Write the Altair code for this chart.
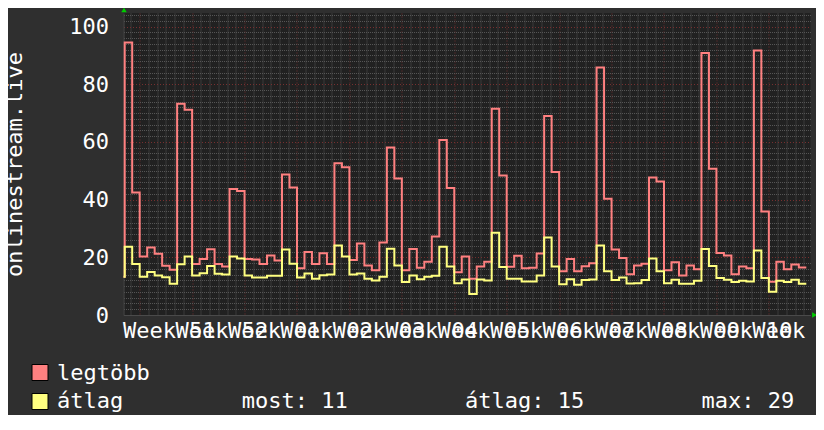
import json
import altair as alt
import pandas as pd

# ---------------- data ----------------
week_labels = ["Week 51", "Week 52", "Week 01", "Week 02", "Week 03", "Week 04",
               "Week 05", "Week 06", "Week 07", "Week 08", "Week 09", "Week 10", "Week 11"]
series_names = ["legtöbb", "átlag"]
series_colors = ["#ff8080", "#ffff80"]

# value of the small partial step at the very left edge (both series)
start_values = [13.3, 13.3]

# daily values, day 0 .. day 90
legtobb = [94.5, 42.5, 20.3, 23.4, 21.2, 17.1, 15.7, 73.2, 71.2, 17.7,
           19.4, 22.8, 17.7, 16.8, 43.7, 43.0, 19.4, 19.2, 17.7, 20.6,
           18.9, 48.7, 44.2, 16.2, 21.8, 17.7, 21.4, 17.7, 52.6, 51.2,
           19.1, 24.8, 17.2, 15.5, 25.1, 58.1, 47.3, 15.5, 22.9, 16.4,
           18.5, 27.2, 60.7, 44.0, 14.8, 20.3, 12.6, 16.8, 18.5, 71.5,
           48.4, 16.7, 20.5, 16.2, 16.4, 21.3, 69.0, 49.6, 15.2, 19.4,
           15.2, 16.9, 17.9, 85.8, 40.3, 22.7, 19.8, 14.1, 17.2, 17.8,
           47.7, 46.3, 15.5, 18.3, 13.7, 17.2, 15.9, 90.8, 50.7, 21.5,
           20.6, 14.1, 16.8, 16.2, 91.7, 35.9, 11.5, 18.5, 15.9, 17.5,
           16.5]
atlag = [23.7, 17.7, 13.3, 14.9, 13.7, 13.1, 10.8, 17.6, 20.3, 13.7,
         14.5, 17.0, 14.3, 14.0, 20.3, 19.6, 13.7, 13.0, 13.0, 13.6,
         13.6, 22.7, 17.8, 13.0, 14.4, 12.6, 13.8, 14.0, 24.1, 20.3,
         14.0, 14.4, 12.6, 12.0, 13.3, 23.0, 17.2, 11.4, 13.7, 12.4,
         13.3, 13.6, 23.7, 16.8, 11.0, 12.3, 7.3, 12.3, 12.0, 28.5,
         16.6, 12.6, 12.6, 11.6, 11.6, 13.7, 26.9, 16.8, 10.7, 12.4,
         10.5, 12.1, 12.3, 24.1, 15.2, 12.1, 13.0, 10.9, 11.0, 12.1,
         19.6, 15.2, 11.0, 12.2, 10.8, 10.8, 11.9, 22.9, 17.0, 12.8,
         12.2, 11.4, 11.9, 11.6, 22.4, 12.8, 8.1, 11.9, 11.4, 12.2,
         10.8]

stat_labels = ["most", "átlag", "max"]
stat_values = [11, 15, 29]

# ---------------- layout / style ----------------
FONT = "DejaVu Sans Mono"
FS = 22
PLOT_W, PLOT_H = 687, 302
X_DOMAIN = [-0.16, 91.56]
Y_DOMAIN = [0, 104.7]
WEEK0 = 2            # first week boundary (day index)
MINOR = 7 / 6        # minor grid step in days

BG = "#2f2f2f"
PLOT_BG = "#212121"
MINOR_GRID = "#555555"
MAJOR_GRID = "#763030"


def series_frame(vals, start, name):
    days = [X_DOMAIN[0]] + list(range(len(vals))) + [len(vals)]
    ys = [start] + vals + [vals[-1]]
    return pd.DataFrame({"day": days, "value": ys, "series": name})


frames = [series_frame(v, s, n) for v, s, n in zip([legtobb, atlag], start_values, series_names)]

x_values = [round(WEEK0 + MINOR * k, 4) for k in range(-1, 77)
            if X_DOMAIN[0] <= WEEK0 + MINOR * k <= X_DOMAIN[1]]
y_values = list(range(0, 105, 2))

kexpr = f"round((datum.value - {WEEK0}) * 6 / 7)"
x_label_expr = f"({kexpr} % 6 === 3) ? {json.dumps(week_labels)}[({kexpr} - 3) / 6] : ''"

x_axis = alt.Axis(
    values=x_values,
    grid=True,
    gridColor=alt.condition(f"{kexpr} % 6 === 0", alt.value(MAJOR_GRID), alt.value(MINOR_GRID)),
    gridDash=alt.condition(f"{kexpr} % 6 === 0", alt.value([1, 2]), alt.value([1, 1])),
    gridWidth=1,
    domain=True,
    domainColor="#4a4a4a",
    ticks=False,
    labelExpr=x_label_expr,
    labelFont=FONT,
    labelFontSize=FS,
    labelColor="#ffffff",
    labelPadding=5,
    labelOffset=3,
    labelOverlap=False,
    labelBound=False,
    labelFlush=False,
    labelAlign="center",
    title=None,
)

y_axis = alt.Axis(
    values=y_values,
    grid=True,
    gridColor=alt.condition("datum.value % 20 === 0", alt.value(MAJOR_GRID), alt.value(MINOR_GRID)),
    gridDash=alt.condition("datum.value % 20 === 0", alt.value([1, 2]), alt.value([1, 1])),
    gridWidth=1,
    domain=True,
    domainColor="#4a4a4a",
    ticks=False,
    labelExpr="datum.value % 20 === 0 ? datum.label : ''",
    labelFont=FONT,
    labelFontSize=FS,
    labelColor="#ffffff",
    labelPadding=15,
    labelOverlap=False,
    title="onlinestream.live",
    titleFont=FONT,
    titleFontSize=FS,
    titleFontWeight="normal",
    titleColor="#ffffff",
    titleAngle=270,
    titleAlign="center",
    titleBaseline="middle",
    titleX=-109.5,
    titleY=151,
)

x_enc = alt.X("day:Q", scale=alt.Scale(domain=X_DOMAIN, nice=False, zero=False), axis=x_axis)
y_enc = alt.Y("value:Q", scale=alt.Scale(domain=Y_DOMAIN, nice=False), axis=y_axis)

layers = []
for df, col in zip(frames, series_colors):
    layers.append(
        alt.Chart(df).mark_line(interpolate="step-after", color=col, strokeWidth=2)
        .encode(x=x_enc, y=y_enc)
    )

# legend
for i, (name, col) in enumerate(zip(series_names, series_colors)):
    d = pd.DataFrame({"name": [name]})
    layers.append(
        alt.Chart(d).mark_square(size=256, fill=col, stroke="#000000", strokeWidth=1, opacity=1)
        .encode(x=alt.value(-83.5), y=alt.value(359.5 + 29 * i))
    )
    layers.append(
        alt.Chart(d).mark_text(align="left", baseline="alphabetic", font=FONT, fontSize=FS, color="#ffffff")
        .encode(x=alt.value(-66.5), y=alt.value(367 + 28 * i), text="name:N")
    )

stat_x = [118.2, 341.5, 578]
for lab, val, sx in zip(stat_labels, stat_values, stat_x):
    d = pd.DataFrame({"t": [f"{lab}: {val}"]})
    layers.append(
        alt.Chart(d).mark_text(align="left", baseline="alphabetic", font=FONT, fontSize=FS, color="#ffffff")
        .encode(x=alt.value(sx), y=alt.value(395), text="t:N")
    )

# green axis arrows
arrow = pd.DataFrame({"a": [0]})
layers.append(
    alt.Chart(arrow).mark_point(shape="triangle-up", filled=True, color="#00cc00", size=30, opacity=1)
    .encode(x=alt.value(0.5), y=alt.value(-3))
)
layers.append(
    alt.Chart(arrow).mark_point(shape="triangle-right", filled=True, color="#00cc00", size=30, opacity=1)
    .encode(x=alt.value(691), y=alt.value(PLOT_H))
)

chart = (
    alt.layer(*layers)
    .properties(
        width=PLOT_W,
        height=PLOT_H,
        padding={"left": 115.5, "top": 5, "right": 5.5, "bottom": 100},
        autosize=alt.AutoSizeParams(type="none"),
        background=BG,
    )
    .configure_view(fill=PLOT_BG, strokeWidth=0)
)

chart.save("out.html", embed_options={"renderer": "svg", "actions": False})
